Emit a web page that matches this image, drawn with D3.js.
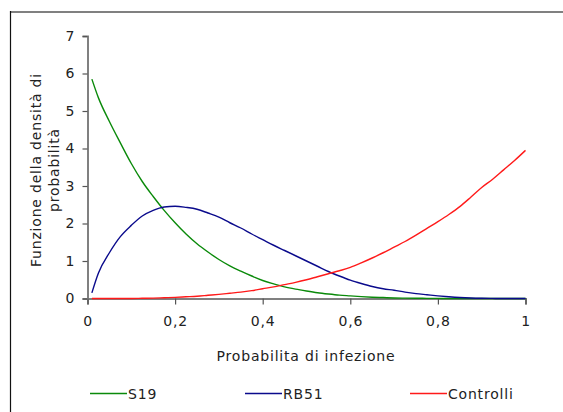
<!DOCTYPE html>
<html><head><meta charset="utf-8">
<script src="https://cdn.jsdelivr.net/npm/d3@7/dist/d3.min.js"></script>
<style>
html,body{margin:0;padding:0;background:#fff;}
svg{display:block;}
text{font-family:"DejaVu Sans",sans-serif;fill:#222;}
</style></head>
<body><svg id="c" width="563" height="412"></svg>
<script>
// Data
const xValues = [0.01,0.025,0.05,0.075,0.10,0.125,0.15,0.175,0.20,0.225,0.25,0.275,0.30,0.325,0.35,0.375,0.40,0.425,0.45,0.475,0.50,0.525,0.55,0.575,0.60,0.625,0.65,0.675,0.70,0.725,0.75,0.775,0.80,0.825,0.85,0.875,0.90,0.925,0.95,0.975,1.00];
const s19 =     [5.85,5.35,4.72,4.15,3.60,3.12,2.72,2.35,2.02,1.72,1.46,1.24,1.04,0.87,0.73,0.60,0.48,0.39,0.31,0.25,0.20,0.155,0.12,0.09,0.07,0.05,0.035,0.025,0.015,0.01,0.006,0.004,0.002,0,0,0,0,0,0,0,0];
const rb51 =    [0.15,0.68,1.22,1.65,1.95,2.20,2.35,2.44,2.46,2.43,2.38,2.28,2.17,2.02,1.88,1.72,1.57,1.42,1.28,1.14,1.00,0.86,0.72,0.60,0.49,0.40,0.32,0.26,0.22,0.17,0.13,0.10,0.07,0.045,0.025,0.012,0.005,0.002,0,0,0];
const controlli=[0,0,0,0,0,0.005,0.01,0.02,0.03,0.045,0.06,0.085,0.11,0.14,0.17,0.21,0.26,0.31,0.37,0.43,0.50,0.58,0.66,0.74,0.83,0.95,1.08,1.22,1.37,1.52,1.69,1.87,2.05,2.24,2.45,2.70,2.96,3.18,3.43,3.68,3.95];
const seriesNames = ["S19","RB51","Controlli"];
const seriesColors = ["#0a8a0a","#0a0a8c","#ff1a1a"];
const xTicks = [0,0.2,0.4,0.6,0.8,1];
const xTickLabels = ["0","0,2","0,4","0,6","0,8","1"];
const yTicks = [0,1,2,3,4,5,6,7];
const xTitle = "Probabilita di infezione";
const yTitleLines = ["Funzione della densità di","probabilità"];

const svg = d3.select("#c");
const x = d3.scaleLinear().domain([0,1]).range([87.5,525.5]);
const y = d3.scaleLinear().domain([0,7]).range([298.5,36]);

// frame
svg.append("line").attr("x1",10).attr("x2",563).attr("y1",12).attr("y2",12).attr("stroke","#808080").attr("stroke-width",2);
svg.append("line").attr("x1",10.5).attr("x2",10.5).attr("y1",11).attr("y2",412).attr("stroke","#111").attr("stroke-width",1.2);

const fs = 14, ls = 0.8;
// y axis
const yAxis = d3.axisLeft(y).tickValues(yTicks).tickSize(5).tickPadding(8).tickFormat(d3.format("d"));
const gy = svg.append("g").attr("transform","translate(87.5,0)").call(yAxis);
gy.select(".domain").attr("stroke","#808080").attr("stroke-width",2);
gy.selectAll(".tick line").attr("stroke","#555").attr("stroke-width",1.2);
gy.selectAll(".tick text").attr("font-size",fs).attr("font-family","DejaVu Sans").attr("fill","#333");

// x axis
const xAxis = d3.axisBottom(x).tickValues(xTicks).tickSize(6).tickPadding(12).tickFormat((d,i)=>xTickLabels[i]);
const gx = svg.append("g").attr("transform","translate(0,298.5)").call(xAxis);
gx.select(".domain").attr("stroke","#808080").attr("stroke-width",2);
gx.selectAll(".tick line").attr("stroke","#555").attr("stroke-width",1.2);
gx.selectAll(".tick text").attr("font-size",fs).attr("font-family","DejaVu Sans").attr("fill","#333").attr("letter-spacing",ls);

// lines
const allSeries = [s19, rb51, controlli];
const line = d3.line().x((d,i)=>x(xValues[i])).y(d=>y(d)).curve(d3.curveMonotoneX);
allSeries.forEach((s,k)=>{
  svg.append("path").datum(s).attr("d",line).attr("fill","none")
    .attr("stroke",seriesColors[k]).attr("stroke-width",1.4);
});

// titles
svg.append("text").attr("x",306).attr("y",361).attr("text-anchor","middle").attr("font-size",fs)
  .attr("letter-spacing",ls).text(xTitle);
yTitleLines.forEach((t,i)=>{
  svg.append("text").attr("transform",`translate(${41+i*18},170) rotate(-90)`)
    .attr("text-anchor","middle").attr("font-size",fs).attr("letter-spacing",ls).text(t);
});

// legend
const legX = [90,245,410];
seriesNames.forEach((n,k)=>{
  svg.append("line").attr("x1",legX[k]).attr("x2",legX[k]+37).attr("y1",393.5).attr("y2",393.5)
    .attr("stroke",seriesColors[k]).attr("stroke-width",1.4);
  svg.append("text").attr("x",legX[k]+38).attr("y",398.5).attr("font-size",fs).attr("letter-spacing",ls).text(n);
});
</script></body></html>
